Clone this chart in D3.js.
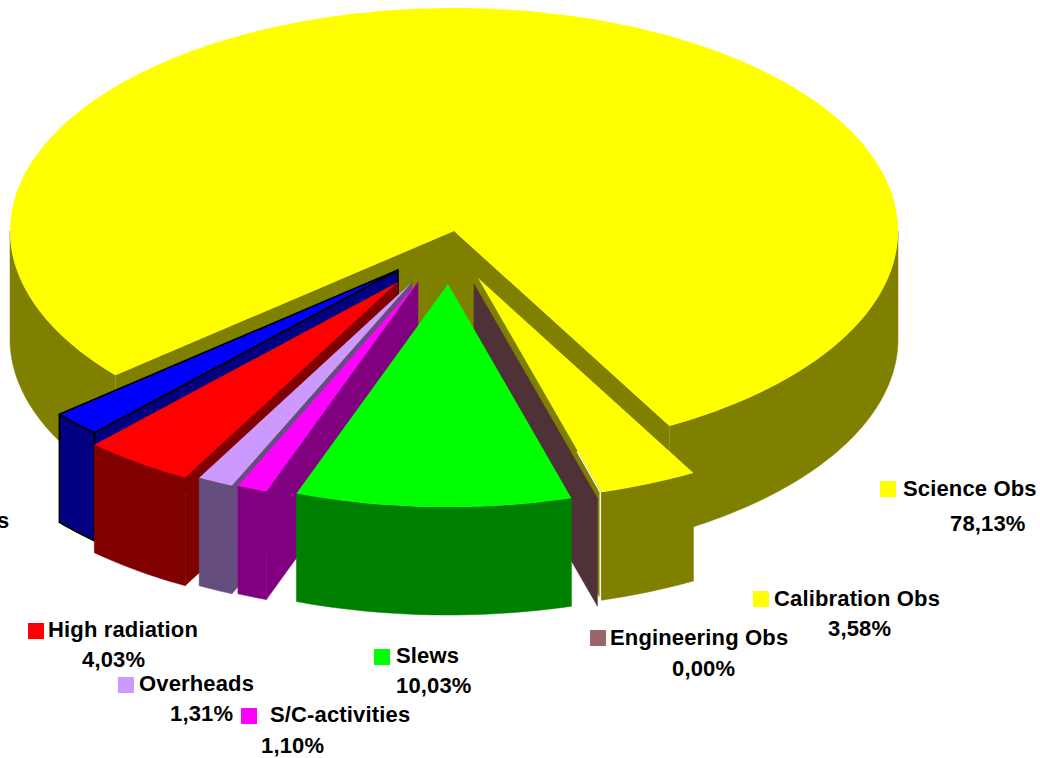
<!DOCTYPE html>
<html>
<head>
<meta charset="utf-8">
<script src="https://d3js.org/d3.v7.min.js"></script>
<style>
html, body { margin: 0; padding: 0; background: #fff; overflow: hidden; }
svg { display: block; }
text { font-family: "Liberation Sans", Arial, sans-serif; font-weight: bold; fill: #000; }
.labels text, .edge-label { font-size: 22px; letter-spacing: 0.15px; }
</style>
</head>
<body>
<svg width="1040" height="758"></svg>
<script>
// Values, in drawing order round the pie (clockwise)
const categories = ['Blue', 'Science Obs', 'Calibration Obs', 'Engineering Obs', 'Slews', 'S/C-activities', 'Overheads', 'High radiation'];
const shares = [1.82, 78.13, 3.58, 0.00, 10.03, 1.10, 1.31, 4.03];

// Pie geometry
const rx = 444, ry = 223, depth = 108;
const startAngle = 223.15 * Math.PI / 180;

// Colours and explosion: where each slice has its apex on the page
const sliceStyle = {
    'Science Obs':     {top: '#ffff00', side: '#808000', apex: [454, 231]},
    'Calibration Obs': {top: '#ffff00', side: '#808000', apex: [478, 278]},
    'Engineering Obs': {top: '#996666', side: '#4f3237', apex: [474, 284]},
    'Slews':           {top: '#00ff00', side: '#008000', apex: [448, 284]},
    'S/C-activities':  {top: '#ff00ff', side: '#800080', apex: [418, 282]},
    'Overheads':       {top: '#cc99ff', side: '#664d80', apex: [412, 282]},
    'High radiation':  {top: '#ff0000', side: '#800000', apex: [398, 282]},
    'Blue':            {top: '#0000ff', side: '#000080', apex: [398, 270], stroke: '#000'}
};

// Painter's order, back to front
const paintOrder = ['Science Obs', 'Calibration Obs', 'Engineering Obs', 'Blue', 'High radiation', 'Overheads', 'S/C-activities', 'Slews'];

// Label layout: swatch corner, name start, share start, both baselines
const labelLayout = [
    {name: 'Science Obs',     sw: [880, 481], x: 903, y: 496, px: 950, py: 531},
    {name: 'Calibration Obs', sw: [753, 591], x: 774, y: 606, px: 828, py: 636},
    {name: 'Engineering Obs', sw: [590, 630], x: 610, y: 645, px: 672, py: 676},
    {name: 'Slews',           sw: [374, 649], x: 396, y: 663, px: 396, py: 693},
    {name: 'S/C-activities',  sw: [241, 708], x: 270, y: 722, px: 261, py: 753},
    {name: 'Overheads',       sw: [118, 677], x: 139, y: 691, px: 170, py: 721},
    {name: 'High radiation',  sw: [28, 623],  x: 48,  y: 637, px: 82,  py: 667}
];

// The picture is cut at its left and bottom edges: only the last letter of
// one label and the very tops of a red line of text are left.
const leftEdgeLabel = 's';
const bottomGlyphs = ['O', 'l', 'l', 'l', 'l', 'l'];
const bottomGlyphX = [642, 682, 808, 850, 916, 991];

const svg = d3.select('svg');
const percent = d3.formatLocale({decimal: ',', thousands: '.', grouping: [3], currency: ['', '']}).format('.2f');

const pie = d3.pie()
    .sort(null)
    .value(d => d.share)
    .startAngle(startAngle)
    .endAngle(startAngle + 2 * Math.PI);

const slices = pie(categories.map((name, i) => ({name: name, share: shares[i]})));

// Projects a pie angle onto the tilted ellipse around a slice's apex
function rim(apex, angle, drop)
{
    return [apex[0] + rx * Math.sin(angle), apex[1] - ry * Math.cos(angle) + (drop || 0)];
}

function arcPoints(apex, a0, a1, drop)
{
    const steps = Math.max(1, Math.ceil(Math.abs(a1 - a0) / 0.02));
    return d3.range(steps + 1).map(i => rim(apex, a0 + (a1 - a0) * i / steps, drop));
}

const line = d3.line();

function sliceByName(name)
{
    return slices.find(d => d.data.name == name);
}

function drawWall(g, points, style)
{
    g.append('path')
        .attr('d', line(points) + 'Z')
        .attr('fill', style.side)
        .attr('stroke', style.stroke || style.side)
        .attr('stroke-width', style.stroke ? 1.6 : 0.5)
        .attr('stroke-linejoin', 'round');
}

function radialWall(g, apex, angle, style)
{
    const p = rim(apex, angle);
    drawWall(g, [apex, p, [p[0], p[1] + depth], [apex[0], apex[1] + depth]], style);
}

function outerWall(g, apex, a0, a1, style)
{
    // Only the part of the rim that faces the viewer
    const twoPi = 2 * Math.PI;
    for (let k = -1; k <= 3; k++)
    {
        const from = Math.max(a0, Math.PI / 2 + k * twoPi);
        const to = Math.min(a1, 3 * Math.PI / 2 + k * twoPi);
        if (from >= to)
            continue;
        const topEdge = arcPoints(apex, from, to);
        const bottomEdge = arcPoints(apex, to, from, depth);
        drawWall(g, topEdge.concat(bottomEdge), style);
    }
}

paintOrder.forEach(name =>
{
    const d = sliceByName(name);
    const style = sliceStyle[name];
    const apex = style.apex;
    const g = svg.append('g').attr('class', 'slice');

    // A radial wall shows when it faces down the page
    if (Math.sin(d.startAngle) < 0)
        radialWall(g, apex, d.startAngle, style);
    if (Math.sin(d.endAngle) > 0)
        radialWall(g, apex, d.endAngle, style);

    outerWall(g, apex, d.startAngle, d.endAngle, style);

    if (d.endAngle > d.startAngle)
    {
        g.append('path')
            .attr('d', line([apex].concat(arcPoints(apex, d.startAngle, d.endAngle))) + 'Z')
            .attr('fill', style.top)
            .attr('stroke', style.stroke || 'none')
            .attr('stroke-width', style.stroke ? 1.6 : 0)
            .attr('stroke-linejoin', 'round');
    }

    // Lighter seams on the corners of the big slice
    if (name == 'Science Obs')
    {
        [d.startAngle, d.endAngle].forEach(a =>
        {
            const p = rim(apex, a);
            g.append('line')
                .attr('x1', p[0]).attr('y1', p[1])
                .attr('x2', p[0]).attr('y2', p[1] + 108)
                .attr('stroke', '#99992a')
                .attr('stroke-width', 0.8);
        });
    }
});

// White sliver along the front corner of the calibration slice
const calibration = sliceByName('Calibration Obs');
const calApex = sliceStyle['Calibration Obs'].apex;
const corner = rim(calApex, calibration.endAngle);
const along = [calApex[0] + (corner[0] - calApex[0]) * 0.81, calApex[1] + (corner[1] - calApex[1]) * 0.81];
svg.append('path')
    .attr('d', line([[along[0] - 0.8, along[1]], [corner[0] - 1.2, corner[1]], [corner[0] - 1.2, corner[1] + depth]]))
    .attr('fill', 'none')
    .attr('stroke', '#fff')
    .attr('stroke-width', 1.4);

// Legend labels
const labels = svg.append('g').attr('class', 'labels')
    .selectAll('g')
    .data(labelLayout)
    .enter().append('g');

labels.append('rect')
    .attr('x', d => d.sw[0])
    .attr('y', d => d.sw[1])
    .attr('width', 16)
    .attr('height', 16)
    .attr('fill', d => sliceStyle[d.name].top);

labels.append('text')
    .attr('x', d => d.x)
    .attr('y', d => d.y)
    .text(d => d.name);

labels.append('text')
    .attr('x', d => d.px)
    .attr('y', d => d.py)
    .text(d => percent(sliceByName(d.name).data.share) + '%');

svg.append('text')
    .attr('class', 'edge-label')
    .attr('x', -3)
    .attr('y', 528)
    .text(leftEdgeLabel);

// Tops of the red text that the bottom edge cuts off
svg.append('g').selectAll('text')
    .data(bottomGlyphs)
    .enter().append('text')
    .attr('x', (d, i) => bottomGlyphX[i])
    .attr('y', 778)
    .style('font-size', '27px')
    .style('fill', '#ff0000')
    .text(d => d);
</script>
</body>
</html>
